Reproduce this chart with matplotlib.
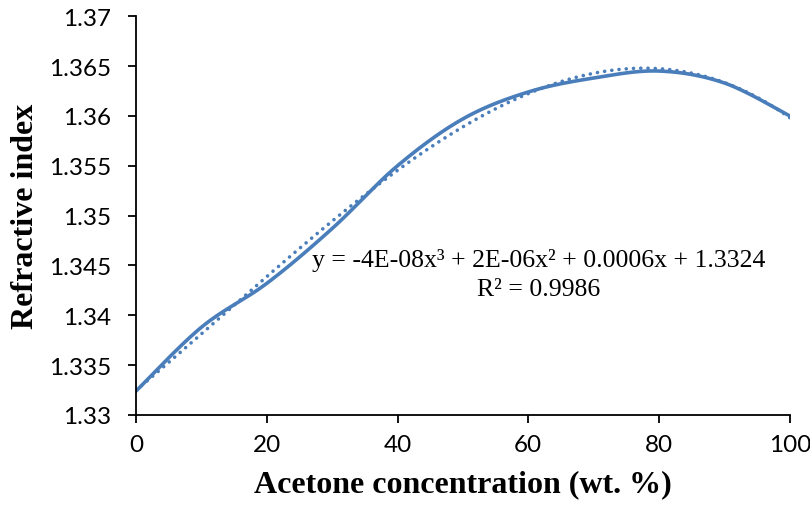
import numpy as np
import matplotlib
from matplotlib import pyplot as plt
from matplotlib.ticker import FuncFormatter, MultipleLocator

matplotlib.use('Agg')

conc = [0, 10, 20, 30, 40, 50, 60, 70, 80, 90, 100]
ri = [1.3324, 1.3388, 1.3432, 1.3487, 1.3550, 1.3597, 1.3624, 1.3638, 1.3645, 1.3633, 1.3600]

equation = 'y = -4E-08x³ + 2E-06x² + 0.0006x + 1.3324'
r_squared = 'R² = 0.9986'

blue = '#4a7ebb'


def smooth_line(x, y, steps=30):
    # excel-like smoothed line (catmull-rom style bezier through the points)
    x = np.asarray(x, float)
    y = np.asarray(y, float)
    px = np.concatenate([[x[0]], x, [x[-1]]])
    py = np.concatenate([[y[0]], y, [y[-1]]])
    out_x, out_y = [], []
    for i in range(1, len(px) - 2):
        p0 = np.array([px[i], py[i]])
        p3 = np.array([px[i + 1], py[i + 1]])
        c1 = p0 + (np.array([px[i + 1], py[i + 1]]) - np.array([px[i - 1], py[i - 1]])) / 6
        c2 = p3 - (np.array([px[i + 2], py[i + 2]]) - np.array([px[i], py[i]])) / 6
        t = np.linspace(0, 1, steps)[:, None]
        pts = ((1 - t) ** 3) * p0 + 3 * ((1 - t) ** 2) * t * c1 + 3 * (1 - t) * t ** 2 * c2 + t ** 3 * p3
        out_x.extend(pts[:, 0])
        out_y.extend(pts[:, 1])
    return out_x, out_y


fig = plt.figure(figsize=(8.1, 5.06), dpi=100)
ax = fig.add_axes([0.168, 0.178, 0.807, 0.788])

sx, sy = smooth_line(conc, ri)
ax.plot(sx, sy, color=blue, lw=2.6, solid_capstyle='round')

coef = np.polyfit(conc, ri, 3)
tx = np.linspace(0, 100, 300)
ax.plot(tx, np.polyval(coef, tx), color=blue, lw=2.6,
        linestyle=(0, (0.01, 2.0)), dash_capstyle='round')

ax.set_xlim(0, 100)
ax.set_ylim(1.33, 1.37)
ax.xaxis.set_major_locator(MultipleLocator(20))
ax.yaxis.set_major_locator(MultipleLocator(0.005))
ax.yaxis.set_major_formatter(FuncFormatter(lambda v, p: f'{v:.4f}'.rstrip('0').rstrip('.')))

for s in ['top', 'right']:
    ax.spines[s].set_visible(False)
for s in ['left', 'bottom']:
    ax.spines[s].set_linewidth(1.3)
ax.tick_params(direction='out', length=6, width=1.3, labelsize=17.5)
ax.tick_params(axis='y', pad=12)
ax.tick_params(axis='x', pad=8)
for lab in ax.get_xticklabels() + ax.get_yticklabels():
    lab.set_fontfamily('Lato')

ax.set_xlabel('Acetone concentration (wt. %)', fontfamily='Liberation Serif',
              fontweight='bold', fontsize=23, labelpad=10)
ax.set_ylabel('Refractive index', fontfamily='Liberation Serif',
              fontweight='bold', fontsize=23, labelpad=6)

ax.text(61.6, 1.3456, equation, ha='center', va='center',
        fontfamily='Liberation Serif', fontsize=18.5)
ax.text(61.6, 1.3426, r_squared, ha='center', va='center',
        fontfamily='Liberation Serif', fontsize=18.5)

plt.savefig('out.png', format='png')
